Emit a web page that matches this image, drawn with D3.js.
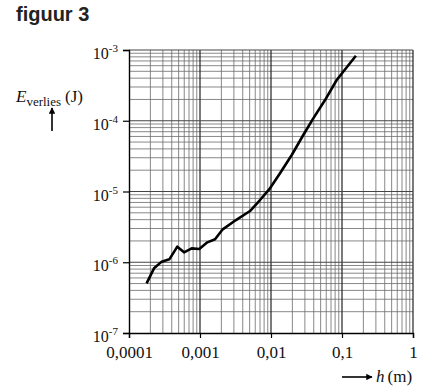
<!DOCTYPE html>
<html>
<head>
<meta charset="utf-8">
<script src="https://cdn.jsdelivr.net/npm/d3@7"></script>
<style>
  body { margin: 0; background: #fff; }
  text { font-family: "Liberation Serif", "Times New Roman", serif; }
</style>
</head>
<body>
<div class="chart"></div>
<script>
// h (m) and E_verlies (J)
const hValues = [1.77e-4, 2.25e-4, 2.89e-4, 3.70e-4, 4.79e-4, 5.96e-4, 7.64e-4, 9.77e-4,
  1.27e-3, 1.63e-3, 2.09e-3, 3.21e-3, 5.06e-3, 7.0e-3, 9.68e-3, 1.34e-2, 1.96e-2,
  2.85e-2, 3.94e-2, 5.77e-2, 8.42e-2, 0.104, 0.157]
const eValues = [5.04e-7, 8.2e-7, 1.02e-6, 1.10e-6, 1.66e-6, 1.38e-6, 1.57e-6, 1.54e-6,
  1.91e-6, 2.11e-6, 2.92e-6, 3.95e-6, 5.3e-6, 7.58e-6, 1.11e-5, 1.81e-5, 3.28e-5,
  6.29e-5, 1.08e-4, 1.96e-4, 3.77e-4, 4.93e-4, 8.3e-4]

const xTicks = [1e-4, 1e-3, 1e-2, 1e-1, 1]
const xTickLabels = ['0,0001', '0,001', '0,01', '0,1', '1']
const yTicks = [1e-7, 1e-6, 1e-5, 1e-4, 1e-3]
const yTickExp = ['-7', '-6', '-5', '-4', '-3']

const width = 428
const height = 392
const margin = {top: 50, right: 15, bottom: 59, left: 129}

const svg = d3.select('.chart')
  .append('svg')
  .attr('width', width)
  .attr('height', height)

const x = d3.scaleLog()
  .domain([1e-4, 1])
  .range([margin.left, width - margin.right])

const y = d3.scaleLog()
  .domain([1e-7, 1e-3])
  .range([height - margin.bottom, margin.top])

// minor grid: 2..9 inside every decade
let minorX = []
xTicks.slice(0, -1).forEach(d => { for (let k = 2; k <= 9; k++) minorX.push(d * k) })
let minorY = []
yTicks.slice(0, -1).forEach(d => { for (let k = 2; k <= 9; k++) minorY.push(d * k) })

const grid = svg.append('g').attr('class', 'grid')

grid.selectAll('line.vminor')
  .data(minorX)
  .enter().append('line')
    .attr('class', 'vminor')
    .attr('x1', d => x(d)).attr('x2', d => x(d))
    .attr('y1', y(1e-7)).attr('y2', y(1e-3))
    .attr('stroke', '#6a6a6a')
    .attr('stroke-width', 0.8)

grid.selectAll('line.hminor')
  .data(minorY)
  .enter().append('line')
    .attr('class', 'hminor')
    .attr('y1', d => y(d)).attr('y2', d => y(d))
    .attr('x1', x(1e-4)).attr('x2', x(1))
    .attr('stroke', '#6a6a6a')
    .attr('stroke-width', 0.8)

grid.selectAll('line.vmajor')
  .data(xTicks.slice(1))
  .enter().append('line')
    .attr('class', 'vmajor')
    .attr('x1', d => x(d)).attr('x2', d => x(d))
    .attr('y1', y(1e-7)).attr('y2', y(1e-3))
    .attr('stroke', '#222')
    .attr('stroke-width', 1.2)

grid.selectAll('line.hmajor')
  .data(yTicks.slice(1))
  .enter().append('line')
    .attr('class', 'hmajor')
    .attr('y1', d => y(d)).attr('y2', d => y(d))
    .attr('x1', x(1e-4)).attr('x2', x(1))
    .attr('stroke', '#444')
    .attr('stroke-width', 1)

// axes
const xAxis = d3.axisBottom(x)
  .tickValues(xTicks)
  .tickSize(5)
  .tickFormat((d, i) => xTickLabels[i])

const gx = svg.append('g')
  .attr('transform', `translate(0, ${y(1e-7)})`)
  .call(xAxis)
gx.select('.domain').attr('stroke', '#000').attr('stroke-width', 1.4)
gx.selectAll('.tick line').attr('stroke', '#000').attr('stroke-width', 1.2)
gx.selectAll('.tick text')
  .attr('y', 25)
  .attr('dy', null)
  .style('font-family', '"Liberation Serif", serif')
  .style('font-size', '17px')
  .attr('fill', '#111')

const yAxis = d3.axisLeft(y)
  .tickValues(yTicks)
  .tickSize(6)
  .tickFormat('')

const gy = svg.append('g')
  .attr('transform', `translate(${x(1e-4)}, 0)`)
  .call(yAxis)
gy.select('.domain').attr('stroke', '#000').attr('stroke-width', 1.4)
gy.selectAll('.tick line').attr('stroke', '#000').attr('stroke-width', 1.2)

// y tick labels as 10 with superscript
const yLabels = svg.append('g')
  .selectAll('text')
  .data(yTicks)
  .enter().append('text')
    .attr('x', x(1e-4) - 11)
    .attr('y', d => y(d) + 9)
    .attr('text-anchor', 'end')
    .style('font-size', '16px')
    .attr('fill', '#111')

yLabels.append('tspan').text('10')
yLabels.append('tspan')
  .attr('dy', -7)
  .style('font-size', '11px')
  .text((d, i) => yTickExp[i])

// the curve
const data = hValues.map((h, i) => ({h: h, e: eValues[i]}))

const line = d3.line()
  .x(d => x(d.h))
  .y(d => y(d.e))

svg.append('path')
  .datum(data)
  .attr('d', line)
  .attr('fill', 'none')
  .attr('stroke', '#000')
  .attr('stroke-width', 2.6)
  .attr('stroke-linejoin', 'round')
  .attr('stroke-linecap', 'butt')

// title
svg.append('text')
  .attr('x', 16)
  .attr('y', 21)
  .style('font-family', '"Liberation Sans", Arial, sans-serif')
  .style('font-weight', 'bold')
  .style('font-size', '20px')
  .attr('fill', '#222')
  .text('figuur 3')

// y label
const ylab = svg.append('text')
  .attr('x', 16)
  .attr('y', 102)
  .style('font-size', '17px')
  .attr('fill', '#111')
ylab.append('tspan').style('font-style', 'italic').text('E')
ylab.append('tspan').attr('dy', 4).style('font-size', '13px').text('verlies')
ylab.append('tspan').attr('dy', -4).attr('dx', 4).text('(J)')

const arrow = svg.append('defs').append('marker')
  .attr('id', 'head')
  .attr('viewBox', '0 0 10 10')
  .attr('refX', 9).attr('refY', 5)
  .attr('markerWidth', 4).attr('markerHeight', 4)
  .attr('markerUnits', 'strokeWidth')
  .attr('orient', 'auto')
arrow.append('path').attr('d', 'M0,0 L10,5 L0,10 z').attr('fill', '#000')

svg.append('line')
  .attr('x1', 52).attr('y1', 131)
  .attr('x2', 52).attr('y2', 108)
  .attr('stroke', '#000')
  .attr('stroke-width', 1.6)
  .attr('marker-end', 'url(#head)')

// x label
svg.append('line')
  .attr('x1', 342).attr('y1', 377)
  .attr('x2', 372).attr('y2', 377)
  .attr('stroke', '#000')
  .attr('stroke-width', 1.6)
  .attr('marker-end', 'url(#head)')

const xlab = svg.append('text')
  .attr('x', 376)
  .attr('y', 382)
  .style('font-size', '17px')
  .attr('fill', '#111')
xlab.append('tspan').style('font-style', 'italic').text('h')
xlab.append('tspan').attr('dx', 3).text('(m)')
</script>
</body>
</html>
